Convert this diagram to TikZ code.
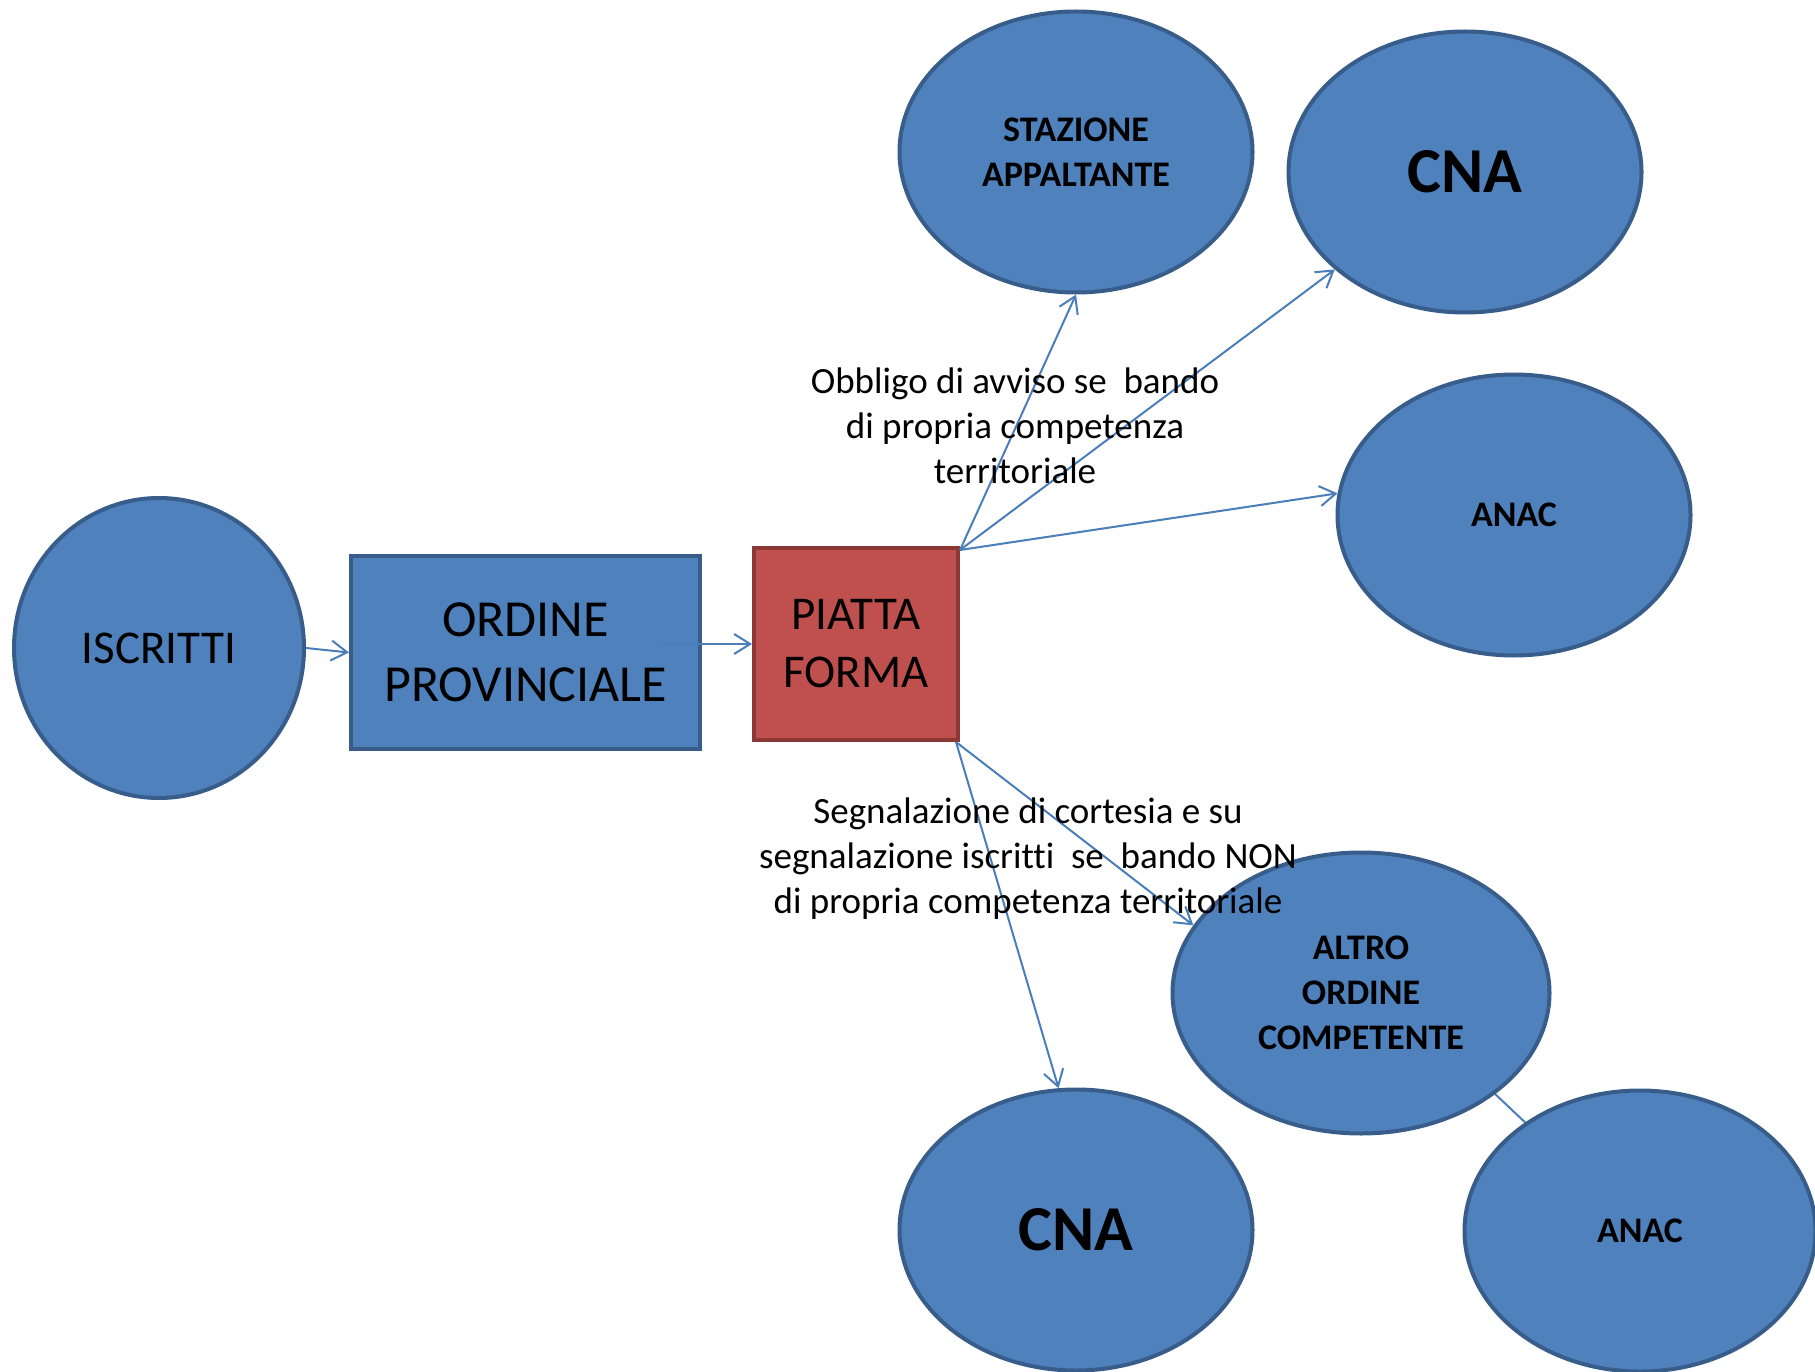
\documentclass[tikz,border=0pt]{standalone}
\usepackage{fontspec}
\setmainfont[Ligatures={NoCommon,NoContextual}]{Carlito}
\usetikzlibrary{shapes.geometric,arrows.meta,backgrounds}
\definecolor{boxblue}{HTML}{4F81BD}
\definecolor{edgeblue}{HTML}{385D8A}
\definecolor{boxred}{HTML}{C0504D}
\definecolor{edgered}{HTML}{8C3836}
\definecolor{linkblue}{HTML}{4A7EBB}
\tikzset{
  oval/.style = {ellipse, fill=boxblue, draw=edgeblue, line width=4pt,
                 inner sep=0pt, align=center, minimum width=353pt, minimum height=281pt,
                 font=\bfseries\fontsize{36}{45}\selectfont},
  block/.style = {rectangle, fill=boxblue, draw=edgeblue, line width=4pt,
                  inner sep=0pt, align=center},
  link/.style = {draw=linkblue, line width=2pt,
                 -{Straight Barb[length=16pt,width=20pt]}},
  note/.style = {align=center, font=\fontsize{37}{45}\selectfont}
}

\begin{document}
\begin{tikzpicture}[x=1pt, y=-1pt]
	\useasboundingbox (0,0) rectangle (1815,1372);

	% Left chain
	\node[oval, minimum width=290pt, minimum height=300pt,
	      font=\fontsize{47}{56}\selectfont] (iscritti) at (159,648) {ISCRITTI};
	\node[block, minimum width=349pt, minimum height=193pt,
	      font=\fontsize{52}{65}\selectfont] (ordine) at (525.5,652.5) {ORDINE\\PROVINCIALE};
	\node[block, fill=boxred, draw=edgered, minimum width=204pt, minimum height=192pt,
	      font=\fontsize{47}{58}\selectfont] (piatta) at (856,644) {PIATTA\\FORMA};

	% Ellipses
	\node[oval] (stazione) at (1076,152) {STAZIONE\\APPALTANTE};
	\node[oval, font=\bfseries\fontsize{64}{70}\selectfont] (cnaa) at (1465,172) {CNA};
	\node[oval] (anaca) at (1514,515) {ANAC};
	\node[oval, minimum width=377pt] (altro) at (1361,993) {ALTRO\\ORDINE\\COMPETENTE};
	\node[oval, font=\bfseries\fontsize{64}{70}\selectfont] (cnab) at (1076,1230) {CNA};
	\node[oval, minimum width=351pt] (anacb) at (1640,1231) {ANAC};

	% Arrows
	\draw[link] (iscritti.east) -- (ordine.west);
	\draw[link] ([xshift=-40pt]ordine.east |- piatta.west) -- (piatta.west);
	\draw[link] ([yshift=-4pt]piatta.north east) -- (stazione.south);
	\draw[link] ([yshift=-4pt]piatta.north east) -- (cnaa);
	\draw[link] ([yshift=-4pt]piatta.north east) -- (anaca.173);
	\draw[link] ([xshift=-4pt]piatta.south east) -- (altro.158);
	\draw[link] ([xshift=-4pt]piatta.south east) -- (cnab.97);
	\begin{scope}[on background layer]
	\draw[link, shorten >=-25pt] (altro.323) -- (anacb);
	\end{scope}

	% Notes
	\node[note] (obbligo) at (1015,426) {Obbligo di avviso se \ bando\\di propria competenza\\territoriale};
	\node[note] (segnala) at (1028,859) {Segnalazione di cortesia e su\\segnalazione iscritti \ se \ bando NON\\di propria competenza territoriale};
\end{tikzpicture}
\end{document}
